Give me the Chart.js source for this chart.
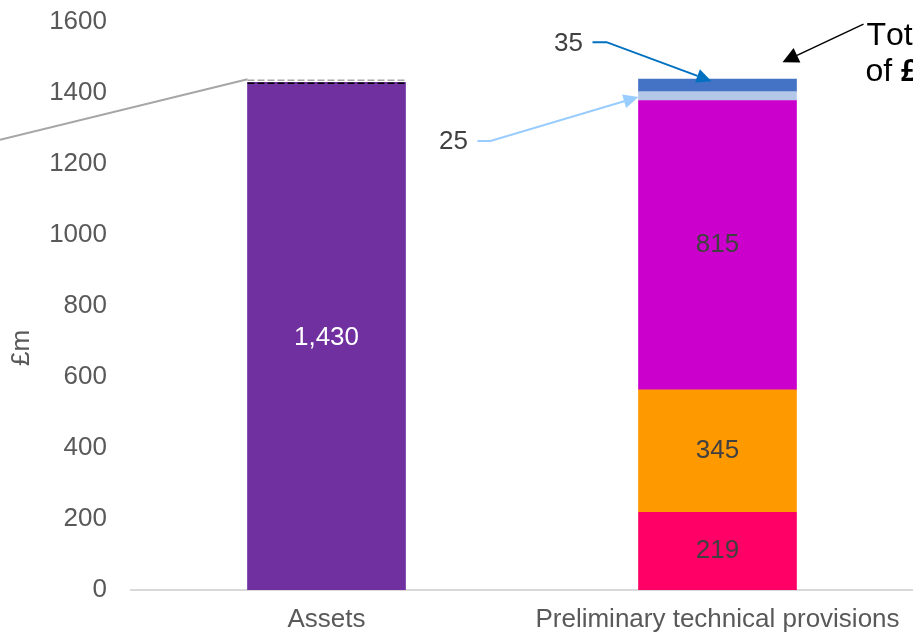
<!DOCTYPE html>
<html>
<head>
<meta charset="utf-8">
<script src="https://cdn.jsdelivr.net/npm/chart.js@4/dist/chart.umd.min.js"></script>
<style>
  html, body { margin: 0; padding: 0; background: #fff; overflow: hidden; }
  #wrap { position: relative; width: 913px; height: 633px; }
</style>
</head>
<body>
<div id="wrap"><canvas id="grafica"></canvas></div>
<script>
// data
const categories = ['Assets', 'Preliminary technical provisions'];
const assetValues = [1430];
const provisionNames = ['Part A', 'Part B', 'Part C', 'Part D', 'Part E'];
const provisionValues = [219, 345, 815, 25, 35];
const yTicks = [0, 200, 400, 600, 800, 1000, 1200, 1400, 1600];
const connectorStartValue = 1268;   // grey line coming in from the left edge
const totalText = ['Total deficit', 'of ', '£9m'];

// styles
const FONT = "'Liberation Sans', Arial, sans-serif";
const provisionColours = ['#FF0066', '#FF9900', '#CC00CC', '#B4C7E7', '#4472C4'];
const insideLabelColours = ['#404040', '#404040', '#404040', null, null];

const datasets = [{
  label: categories[0],
  data: [assetValues[0], null],
  backgroundColor: '#7030A0',
  barThickness: 158
}];
provisionValues.forEach((v, i) => {
  datasets.push({
    label: provisionNames[i],
    data: [null, v],
    backgroundColor: provisionColours[i],
    barThickness: 158
  });
});

function arrow(ctx, pts, colour, width, headLen, headHalf) {
  ctx.save();
  ctx.strokeStyle = colour;
  ctx.fillStyle = colour;
  ctx.lineWidth = width;
  const n = pts.length;
  const [tx, ty] = pts[n - 1];
  const [px, py] = pts[n - 2];
  const ang = Math.atan2(ty - py, tx - px);
  const bx = tx - headLen * Math.cos(ang);
  const by = ty - headLen * Math.sin(ang);
  ctx.beginPath();
  ctx.moveTo(pts[0][0], pts[0][1]);
  for (let i = 1; i < n - 1; i++) ctx.lineTo(pts[i][0], pts[i][1]);
  ctx.lineTo(bx, by);
  ctx.stroke();
  ctx.beginPath();
  ctx.moveTo(tx, ty);
  ctx.lineTo(bx + headHalf * Math.sin(ang), by - headHalf * Math.cos(ang));
  ctx.lineTo(bx - headHalf * Math.sin(ang), by + headHalf * Math.cos(ang));
  ctx.closePath();
  ctx.fill();
  ctx.restore();
}

const extras = {
  id: 'extras',
  afterDatasetsDraw(chart) {
    const { ctx, chartArea, scales: { y } } = chart;
    const assetBar = chart.getDatasetMeta(0).data[0];
    const segs = provisionValues.map((v, i) => chart.getDatasetMeta(i + 1).data[1]);
    const total = provisionValues.reduce((a, b) => a + b, 0);
    const half = assetBar.width / 2;

    ctx.save();
    // grey connector from the left
    ctx.strokeStyle = '#A6A6A6';
    ctx.lineWidth = 2;
    ctx.beginPath();
    ctx.moveTo(0, y.getPixelForValue(connectorStartValue));
    ctx.lineTo(assetBar.x - half, y.getPixelForValue(total));
    ctx.stroke();

    // dashed lines over the asset bar
    ctx.setLineDash([7, 3]);
    ctx.lineWidth = 1.5;
    ctx.strokeStyle = '#A6A6A6';
    ctx.beginPath();
    ctx.moveTo(assetBar.x - half, y.getPixelForValue(total) + 1);
    ctx.lineTo(assetBar.x + half, y.getPixelForValue(total) + 1);
    ctx.stroke();
    ctx.strokeStyle = '#000';
    ctx.beginPath();
    ctx.moveTo(assetBar.x - half, assetBar.y + 1);
    ctx.lineTo(assetBar.x + half, assetBar.y + 1);
    ctx.stroke();
    ctx.setLineDash([]);

    // labels inside bars
    ctx.font = '26px ' + FONT;
    ctx.textAlign = 'center';
    ctx.textBaseline = 'middle';
    ctx.fillStyle = '#FFFFFF';
    ctx.fillText(assetValues[0].toLocaleString('en-GB'), assetBar.x, (assetBar.y + assetBar.base) / 2 + 2);
    segs.forEach((el, i) => {
      if (!insideLabelColours[i]) return;
      ctx.fillStyle = insideLabelColours[i];
      ctx.fillText(provisionValues[i].toLocaleString('en-GB'), el.x, (el.y + el.base) / 2);
    });

    // call-out for the top segment
    const top = segs[4];
    ctx.fillStyle = '#404040';
    ctx.fillText(String(provisionValues[4]), top.x - 149, top.y - 35);
    arrow(ctx, [[top.x - 125, top.y - 37], [top.x - 111, top.y - 37], [top.x - 6, top.y + 2]],
      '#0070C0', 2, 15, 7);

    // call-out for the thin light segment
    const thin = segs[3];
    const L = thin.x - thin.width / 2;
    const m = (thin.y + thin.base) / 2;
    ctx.fillStyle = '#404040';
    ctx.fillText(String(provisionValues[3]), L - 185, m + 46);
    arrow(ctx, [[L - 161, m + 45], [L - 148, m + 45], [L, m + 1]], '#99CCFF', 2, 15, 7);

    // total note on the right
    arrow(ctx, [[top.x + 146, top.y - 55], [top.x + 65, top.y - 17]], '#000000', 1.5, 16, 8);
    ctx.textAlign = 'left';
    ctx.textBaseline = 'alphabetic';
    ctx.fillStyle = '#000';
    if ('fontKerning' in ctx) ctx.fontKerning = 'none';
    ctx.font = '32px ' + FONT;
    ctx.fillText(totalText[0], top.x + 149, top.y - 34);
    ctx.fillText(totalText[1], top.x + 148, top.y + 2);
    const w = ctx.measureText(totalText[1]).width;
    ctx.font = 'bold 32px ' + FONT;
    ctx.fillText(totalText[2], top.x + 148 + w, top.y + 2);

    // y axis title
    ctx.save();
    ctx.translate(22, (chartArea.top + chartArea.bottom) / 2 + 42);
    ctx.rotate(-Math.PI / 2);
    ctx.textAlign = 'center';
    ctx.textBaseline = 'middle';
    ctx.fillStyle = '#595959';
    ctx.font = '26px ' + FONT;
    ctx.fillText('£m', 0, 0);
    ctx.restore();

    ctx.restore();
  }
};

new Chart(document.getElementById('grafica'), {
  type: 'bar',
  data: { labels: categories, datasets },
  options: {
    responsive: true,
    maintainAspectRatio: false,
    animation: false,
    layout: { padding: { top: 22, left: 0, right: 0, bottom: 0 } },
    plugins: {
      legend: { display: false },
      tooltip: { enabled: false }
    },
    scales: {
      x: {
        stacked: true,
        afterFit: s => {
          s.height = 43;
          s.paddingLeft = s.paddingRight = s.paddingTop = s.paddingBottom = 0;
        },
        ticks: {
          autoSkip: false,
          maxRotation: 0,
          padding: 14,
          color: '#595959',
          font: { family: FONT, size: 26 }
        },
        grid: { display: false, drawTicks: false },
        border: { display: true, color: '#D9D9D9', width: 2 }
      },
      y: {
        stacked: true,
        min: 0,
        max: 1600,
        afterBuildTicks: s => { s.ticks = yTicks.map(v => ({ value: v })); },
        afterFit: s => {
          s.width = 131;
          s.paddingTop = s.paddingBottom = 0;
        },
        ticks: {
          padding: 24,
          color: '#595959',
          font: { family: FONT, size: 26 },
          callback: v => String(v)
        },
        grid: { display: false, drawTicks: false },
        border: { display: false }
      }
    }
  },
  plugins: [extras]
});
</script>
</body>
</html>
